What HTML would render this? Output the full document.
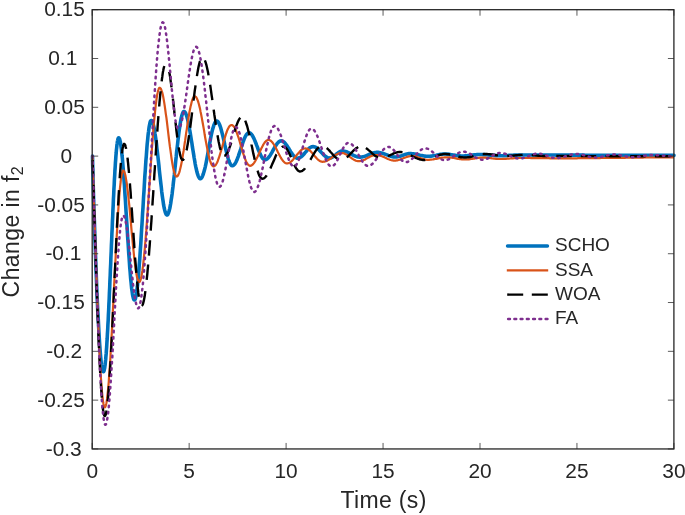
<!DOCTYPE html>
<html><head><meta charset="utf-8"><title>Change in f2</title>
<style>
html,body{margin:0;padding:0;background:#fff;}
body{width:685px;height:515px;overflow:hidden;font-family:"Liberation Sans",Arial,sans-serif;}
svg{display:block;}
svg text{font-family:"Liberation Sans",Arial,sans-serif;fill:#262626;}
</style></head><body>
<svg width="685" height="515" viewBox="0 0 685 515">
<rect width="685" height="515" fill="#fff"/>
<g fill="none" stroke-linejoin="round">
<path d="M92.5 156.1 L92.7 165.2 L92.9 173.0 L93.1 180.5 L93.3 187.7 L93.5 194.6 L93.7 201.5 L93.9 208.1 L94.1 214.6 L94.4 221.0 L94.6 227.3 L94.8 233.5 L95.0 239.5 L95.2 245.5 L95.4 251.3 L95.6 257.0 L95.8 262.6 L96.0 268.1 L96.2 273.4 L96.4 278.6 L96.6 283.8 L96.8 288.8 L97.0 293.6 L97.2 298.4 L97.4 303.0 L97.6 307.5 L97.8 311.8 L98.1 316.0 L98.3 320.1 L98.5 324.0 L98.7 327.8 L98.9 331.5 L99.1 334.9 L99.3 338.3 L99.5 341.5 L99.7 344.5 L99.9 347.4 L100.1 350.2 L100.3 352.7 L100.5 355.2 L100.7 357.4 L100.9 359.5 L101.1 361.5 L101.3 363.2 L101.5 364.8 L101.8 366.3 L102.0 367.5 L102.2 368.6 L102.4 369.6 L102.6 370.3 L102.8 370.9 L103.0 371.4 L103.2 371.6 L103.4 371.7 L103.7 371.5 L103.9 371.1 L104.2 370.3 L104.4 369.2 L104.7 367.8 L104.9 366.2 L105.2 364.2 L105.4 361.9 L105.7 359.4 L105.9 356.5 L106.2 353.4 L106.4 350.1 L106.7 346.5 L106.9 342.6 L107.2 338.5 L107.4 334.2 L107.7 329.7 L107.9 324.9 L108.2 320.0 L108.4 315.0 L108.7 309.7 L108.9 304.3 L109.2 298.8 L109.4 293.2 L109.7 287.4 L109.9 281.6 L110.2 275.7 L110.4 269.8 L110.7 263.8 L110.9 257.8 L111.2 251.7 L111.4 245.7 L111.7 239.7 L111.9 233.8 L112.2 227.9 L112.4 222.1 L112.7 216.3 L112.9 210.7 L113.2 205.2 L113.4 199.8 L113.7 194.5 L113.9 189.5 L114.2 184.6 L114.4 179.8 L114.7 175.3 L114.9 171.0 L115.2 166.9 L115.4 163.0 L115.7 159.4 L115.9 156.1 L116.2 153.0 L116.4 150.1 L116.7 147.6 L116.9 145.3 L117.2 143.3 L117.4 141.7 L117.7 140.3 L117.9 139.2 L118.2 138.4 L118.4 138.0 L118.7 137.8 L119.0 138.0 L119.4 138.5 L119.7 139.4 L120.0 140.7 L120.4 142.3 L120.7 144.2 L121.0 146.5 L121.4 149.1 L121.7 152.0 L122.0 155.3 L122.4 158.8 L122.7 162.5 L123.0 166.5 L123.4 170.8 L123.7 175.3 L124.0 179.9 L124.4 184.8 L124.7 189.8 L125.0 194.9 L125.4 200.1 L125.7 205.4 L126.0 210.8 L126.4 216.2 L126.7 221.6 L127.1 227.0 L127.4 232.4 L127.7 237.7 L128.1 242.9 L128.4 248.0 L128.7 253.0 L129.1 257.9 L129.4 262.5 L129.7 267.0 L130.1 271.3 L130.4 275.3 L130.7 279.0 L131.1 282.5 L131.4 285.8 L131.7 288.7 L132.1 291.3 L132.4 293.6 L132.7 295.5 L133.1 297.1 L133.4 298.4 L133.7 299.3 L134.1 299.8 L134.4 300.0 L134.7 299.8 L135.1 299.3 L135.4 298.5 L135.7 297.3 L136.0 295.8 L136.4 293.9 L136.7 291.8 L137.0 289.3 L137.4 286.6 L137.7 283.5 L138.0 280.2 L138.4 276.6 L138.7 272.7 L139.0 268.6 L139.3 264.3 L139.7 259.8 L140.0 255.1 L140.3 250.3 L140.7 245.2 L141.0 240.1 L141.3 234.8 L141.6 229.5 L142.0 224.0 L142.3 218.5 L142.6 213.0 L143.0 207.5 L143.3 202.0 L143.6 196.5 L144.0 191.0 L144.3 185.7 L144.6 180.4 L144.9 175.3 L145.3 170.2 L145.6 165.4 L145.9 160.7 L146.3 156.2 L146.6 151.9 L146.9 147.8 L147.2 143.9 L147.6 140.3 L147.9 137.0 L148.2 133.9 L148.6 131.2 L148.9 128.7 L149.2 126.6 L149.6 124.7 L149.9 123.2 L150.2 122.0 L150.5 121.2 L150.9 120.7 L151.2 120.5 L151.7 120.7 L152.2 121.4 L152.6 122.4 L153.1 123.9 L153.6 125.8 L154.1 128.0 L154.6 130.6 L155.0 133.6 L155.5 136.8 L156.0 140.3 L156.5 144.1 L156.9 148.1 L157.4 152.3 L157.9 156.6 L158.4 161.0 L158.9 165.5 L159.3 170.0 L159.8 174.5 L160.3 178.9 L160.8 183.2 L161.3 187.4 L161.7 191.4 L162.2 195.2 L162.7 198.7 L163.2 201.9 L163.6 204.9 L164.1 207.5 L164.6 209.7 L165.1 211.6 L165.6 213.1 L166.0 214.1 L166.5 214.8 L167.0 215.0 L167.5 214.8 L167.9 214.3 L168.4 213.3 L168.8 212.0 L169.3 210.4 L169.8 208.4 L170.2 206.1 L170.7 203.5 L171.1 200.6 L171.6 197.4 L172.1 194.0 L172.5 190.4 L173.0 186.5 L173.4 182.5 L173.9 178.4 L174.4 174.2 L174.8 169.8 L175.3 165.4 L175.7 161.1 L176.2 156.7 L176.6 152.3 L177.1 148.1 L177.6 144.0 L178.0 140.0 L178.5 136.1 L178.9 132.5 L179.4 129.1 L179.9 125.9 L180.3 123.0 L180.8 120.4 L181.2 118.1 L181.7 116.1 L182.2 114.5 L182.6 113.2 L183.1 112.2 L183.5 111.7 L184.0 111.5 L184.6 111.7 L185.1 112.3 L185.7 113.3 L186.2 114.6 L186.8 116.3 L187.4 118.4 L187.9 120.7 L188.5 123.3 L189.1 126.2 L189.6 129.4 L190.2 132.7 L190.7 136.1 L191.3 139.7 L191.9 143.3 L192.4 146.9 L193.0 150.5 L193.6 154.1 L194.1 157.5 L194.7 160.8 L195.2 164.0 L195.8 166.9 L196.4 169.5 L196.9 171.8 L197.5 173.9 L198.1 175.6 L198.6 176.9 L199.2 177.9 L199.7 178.5 L200.3 178.7 L200.9 178.5 L201.5 177.9 L202.1 177.0 L202.7 175.6 L203.3 174.0 L203.9 172.0 L204.6 169.6 L205.2 167.1 L205.8 164.3 L206.4 161.3 L207.0 158.1 L207.6 154.9 L208.2 151.5 L208.8 148.2 L209.4 144.8 L210.0 141.6 L210.6 138.4 L211.2 135.4 L211.8 132.6 L212.4 130.1 L213.1 127.7 L213.7 125.7 L214.3 124.1 L214.9 122.7 L215.5 121.8 L216.1 121.2 L216.7 121.0 L217.4 121.2 L218.1 121.8 L218.7 122.9 L219.4 124.3 L220.1 126.0 L220.8 128.1 L221.4 130.5 L222.1 133.1 L222.8 135.9 L223.5 138.8 L224.2 141.9 L224.8 144.9 L225.5 148.0 L226.2 150.9 L226.9 153.7 L227.6 156.3 L228.2 158.7 L228.9 160.8 L229.6 162.5 L230.3 163.9 L230.9 165.0 L231.6 165.6 L232.3 165.8 L233.1 165.6 L233.8 165.1 L234.6 164.3 L235.3 163.2 L236.1 161.8 L236.9 160.1 L237.6 158.2 L238.4 156.1 L239.1 153.9 L239.9 151.6 L240.7 149.2 L241.4 146.9 L242.2 144.6 L242.9 142.4 L243.7 140.3 L244.4 138.4 L245.2 136.7 L246.0 135.3 L246.7 134.2 L247.5 133.4 L248.2 132.9 L249.0 132.7 L249.8 132.9 L250.5 133.3 L251.3 134.0 L252.0 135.0 L252.8 136.3 L253.6 137.8 L254.3 139.4 L255.1 141.3 L255.9 143.2 L256.6 145.2 L257.4 147.2 L258.1 149.2 L258.9 151.1 L259.7 152.9 L260.4 154.6 L261.2 156.1 L262.0 157.4 L262.7 158.4 L263.5 159.1 L264.2 159.5 L265.0 159.7 L265.8 159.6 L266.7 159.2 L267.5 158.6 L268.4 157.7 L269.2 156.7 L270.1 155.4 L270.9 154.1 L271.8 152.6 L272.6 151.1 L273.5 149.5 L274.3 148.0 L275.2 146.5 L276.0 145.2 L276.9 143.9 L277.7 142.9 L278.6 142.0 L279.4 141.4 L280.3 141.0 L281.1 140.9 L282.0 141.0 L282.8 141.4 L283.7 141.9 L284.6 142.7 L285.5 143.7 L286.3 144.8 L287.2 146.1 L288.1 147.4 L289.0 148.8 L289.8 150.3 L290.7 151.7 L291.6 153.0 L292.5 154.3 L293.3 155.4 L294.2 156.4 L295.1 157.2 L296.0 157.7 L296.8 158.1 L297.7 158.2 L298.6 158.1 L299.5 157.8 L300.4 157.3 L301.3 156.7 L302.2 155.9 L303.1 155.0 L304.0 154.0 L304.9 152.9 L305.8 151.9 L306.7 150.8 L307.6 149.8 L308.5 148.9 L309.4 148.1 L310.3 147.5 L311.2 147.0 L312.1 146.7 L313.0 146.6 L313.9 146.7 L314.8 146.9 L315.8 147.4 L316.7 147.9 L317.6 148.6 L318.5 149.4 L319.4 150.4 L320.3 151.3 L321.2 152.3 L322.2 153.3 L323.1 154.2 L324.0 155.2 L324.9 156.0 L325.8 156.7 L326.8 157.2 L327.7 157.7 L328.6 157.9 L329.5 158.0 L330.4 157.9 L331.4 157.7 L332.3 157.2 L333.2 156.7 L334.1 156.0 L335.1 155.3 L336.0 154.5 L336.9 153.7 L337.9 153.0 L338.8 152.3 L339.7 151.8 L340.6 151.3 L341.6 151.1 L342.5 151.0 L343.5 151.0 L344.4 151.2 L345.4 151.4 L346.4 151.7 L347.3 152.1 L348.3 152.5 L349.3 153.0 L350.2 153.5 L351.2 154.0 L352.2 154.6 L353.1 155.1 L354.1 155.6 L355.1 156.0 L356.0 156.4 L357.0 156.7 L358.0 156.9 L358.9 157.1 L359.9 157.1 L360.9 157.1 L361.9 156.9 L363.0 156.7 L364.0 156.5 L365.0 156.2 L366.0 155.8 L367.0 155.4 L368.0 155.0 L369.1 154.5 L370.1 154.1 L371.1 153.7 L372.1 153.3 L373.1 153.0 L374.1 152.8 L375.2 152.6 L376.2 152.4 L377.2 152.4 L378.2 152.4 L379.2 152.5 L380.3 152.7 L381.3 152.9 L382.3 153.2 L383.3 153.6 L384.4 153.9 L385.4 154.3 L386.4 154.7 L387.4 155.1 L388.4 155.5 L389.5 155.8 L390.5 156.2 L391.5 156.5 L392.5 156.7 L393.6 156.9 L394.6 157.0 L395.6 157.0 L396.6 157.0 L397.7 156.8 L398.7 156.6 L399.7 156.4 L400.7 156.0 L401.8 155.7 L402.8 155.3 L403.8 154.9 L404.9 154.6 L405.9 154.2 L406.9 154.0 L407.9 153.8 L409.0 153.6 L410.0 153.6 L411.0 153.6 L412.0 153.7 L413.0 153.8 L414.0 153.9 L415.0 154.1 L416.0 154.3 L417.0 154.5 L418.0 154.7 L419.0 154.9 L420.0 155.2 L421.0 155.4 L422.0 155.6 L423.0 155.8 L424.0 156.0 L425.0 156.1 L426.0 156.2 L427.0 156.3 L428.0 156.3 L429.0 156.3 L430.1 156.2 L431.1 156.1 L432.2 156.0 L433.2 155.8 L434.3 155.6 L435.3 155.4 L436.4 155.2 L437.4 154.9 L438.4 154.7 L439.5 154.5 L440.5 154.3 L441.6 154.2 L442.6 154.1 L443.7 154.0 L444.7 154.0 L445.7 154.0 L446.7 154.1 L447.8 154.1 L448.8 154.3 L449.8 154.4 L450.8 154.6 L451.8 154.7 L452.8 154.9 L453.9 155.1 L454.9 155.3 L455.9 155.4 L456.9 155.6 L457.9 155.7 L458.9 155.9 L460.0 155.9 L461.0 156.0 L462.0 156.0 L463.0 156.0 L464.0 156.0 L465.0 155.9 L466.0 155.8 L467.0 155.7 L468.0 155.6 L469.0 155.5 L470.0 155.4 L471.0 155.2 L472.0 155.1 L473.0 155.0 L474.0 154.9 L475.0 154.8 L476.0 154.7 L477.0 154.6 L478.0 154.5 L479.0 154.5 L480.0 154.5 L481.0 154.5 L482.0 154.5 L483.0 154.6 L484.0 154.6 L485.0 154.7 L486.0 154.7 L487.0 154.8 L488.0 154.9 L489.0 155.0 L490.0 155.1 L491.0 155.2 L492.0 155.3 L493.0 155.4 L494.0 155.5 L495.0 155.5 L496.0 155.6 L497.0 155.6 L498.0 155.7 L499.0 155.7 L500.0 155.7 L501.0 155.7 L502.0 155.7 L503.0 155.7 L504.0 155.6 L505.0 155.6 L506.0 155.6 L507.0 155.5 L508.0 155.5 L509.0 155.4 L510.0 155.3 L511.0 155.3 L512.0 155.2 L513.0 155.2 L514.0 155.1 L515.0 155.1 L516.0 155.1 L517.0 155.0 L518.0 155.0 L519.0 155.0 L520.0 155.0 L521.0 155.0 L522.0 155.0 L523.0 155.0 L524.0 155.0 L525.0 155.0 L526.0 155.0 L527.0 155.0 L528.0 155.0 L529.0 155.0 L530.0 155.0 L531.0 155.0 L532.0 155.0 L533.0 155.0 L534.0 155.0 L535.0 155.0 L536.0 155.0 L537.0 155.0 L538.0 155.0 L539.0 155.0 L540.0 155.0 L541.0 155.0 L542.0 155.0 L543.0 155.0 L544.0 155.0 L545.0 155.0 L546.0 155.0 L547.0 155.0 L548.0 155.0 L549.0 155.0 L550.0 155.0 L551.0 155.0 L552.0 155.0 L553.0 155.0 L554.0 155.0 L555.0 155.0 L556.0 155.1 L557.0 155.1 L558.0 155.1 L559.0 155.1 L560.0 155.1 L561.0 155.1 L562.0 155.1 L563.0 155.1 L564.0 155.1 L565.0 155.1 L566.0 155.1 L567.0 155.1 L568.0 155.1 L569.0 155.1 L570.0 155.1 L571.0 155.1 L572.0 155.1 L573.0 155.1 L574.0 155.1 L575.0 155.1 L576.0 155.1 L577.0 155.1 L578.0 155.1 L579.0 155.1 L580.0 155.1 L581.0 155.1 L582.0 155.1 L583.0 155.1 L584.0 155.1 L585.0 155.2 L586.0 155.2 L587.0 155.2 L588.0 155.2 L589.0 155.2 L590.0 155.2 L591.0 155.2 L592.0 155.2 L593.0 155.2 L594.0 155.2 L595.0 155.2 L596.0 155.2 L597.0 155.2 L598.0 155.2 L599.0 155.2 L600.0 155.2 L601.0 155.2 L602.0 155.2 L603.0 155.2 L604.0 155.2 L605.0 155.2 L606.0 155.2 L607.0 155.2 L608.0 155.2 L609.0 155.2 L610.0 155.3 L611.0 155.3 L612.0 155.3 L613.0 155.3 L614.0 155.3 L615.0 155.3 L616.0 155.3 L617.0 155.3 L618.0 155.3 L619.0 155.3 L620.0 155.3 L621.0 155.3 L622.0 155.3 L623.0 155.3 L624.0 155.3 L625.0 155.3 L626.0 155.3 L627.0 155.3 L628.0 155.3 L629.0 155.3 L630.0 155.3 L631.0 155.3 L632.0 155.3 L633.0 155.3 L634.0 155.3 L635.0 155.3 L636.0 155.3 L637.0 155.3 L638.0 155.3 L639.0 155.4 L640.0 155.4 L641.0 155.4 L642.0 155.4 L643.0 155.4 L644.0 155.4 L645.0 155.4 L646.0 155.4 L647.0 155.4 L648.0 155.4 L649.0 155.4 L650.0 155.4 L651.0 155.4 L652.0 155.4 L653.0 155.4 L654.0 155.4 L655.0 155.4 L656.0 155.4 L657.0 155.4 L658.0 155.4 L659.0 155.4 L660.0 155.4 L661.0 155.4 L662.0 155.4 L663.0 155.4 L664.0 155.4 L665.0 155.4 L666.0 155.4 L667.0 155.4 L668.0 155.4 L669.0 155.4 L670.0 155.4 L671.0 155.4 L672.0 155.4 L673.0 155.4 L674.0 155.4" stroke="#0072BD" stroke-width="3.6" stroke-linecap="round"/>
<path d="M92.5 156.1 L92.7 162.5 L92.9 168.8 L93.1 175.2 L93.3 181.5 L93.5 187.8 L93.7 194.2 L93.9 200.4 L94.1 206.7 L94.3 212.9 L94.5 219.1 L94.7 225.2 L94.9 231.3 L95.1 237.4 L95.3 243.4 L95.5 249.3 L95.7 255.2 L95.9 261.0 L96.1 266.8 L96.3 272.5 L96.5 278.1 L96.7 283.6 L96.9 289.0 L97.1 294.4 L97.3 299.7 L97.5 304.8 L97.7 309.9 L97.9 314.9 L98.1 319.8 L98.3 324.6 L98.5 329.2 L98.7 333.8 L98.8 338.2 L99.0 342.6 L99.2 346.8 L99.4 350.9 L99.6 354.8 L99.8 358.7 L100.0 362.4 L100.2 365.9 L100.4 369.4 L100.6 372.7 L100.8 375.8 L101.0 378.8 L101.2 381.7 L101.4 384.4 L101.6 387.0 L101.8 389.5 L102.0 391.8 L102.2 393.9 L102.4 395.9 L102.6 397.7 L102.8 399.4 L103.0 400.9 L103.2 402.3 L103.4 403.5 L103.6 404.5 L103.8 405.4 L104.0 406.1 L104.2 406.7 L104.4 407.1 L104.6 407.3 L104.8 407.4 L105.1 407.3 L105.4 406.8 L105.6 406.2 L105.9 405.2 L106.2 404.0 L106.5 402.5 L106.8 400.7 L107.1 398.7 L107.3 396.4 L107.6 393.8 L107.9 391.1 L108.2 388.0 L108.5 384.8 L108.8 381.3 L109.0 377.6 L109.3 373.7 L109.6 369.6 L109.9 365.3 L110.2 360.9 L110.5 356.2 L110.7 351.4 L111.0 346.5 L111.3 341.4 L111.6 336.3 L111.9 331.0 L112.2 325.6 L112.4 320.1 L112.7 314.5 L113.0 308.9 L113.3 303.2 L113.6 297.5 L113.9 291.8 L114.1 286.1 L114.4 280.4 L114.7 274.7 L115.0 269.0 L115.3 263.4 L115.6 257.8 L115.8 252.3 L116.1 246.9 L116.4 241.6 L116.7 236.5 L117.0 231.4 L117.3 226.5 L117.5 221.7 L117.8 217.0 L118.1 212.6 L118.4 208.3 L118.7 204.2 L119.0 200.3 L119.2 196.6 L119.5 193.1 L119.8 189.9 L120.1 186.8 L120.4 184.1 L120.7 181.5 L120.9 179.2 L121.2 177.2 L121.5 175.4 L121.8 173.9 L122.1 172.7 L122.4 171.7 L122.6 171.1 L122.9 170.6 L123.2 170.5 L123.6 170.7 L124.1 171.3 L124.5 172.3 L124.9 173.7 L125.4 175.4 L125.8 177.6 L126.2 180.1 L126.7 182.9 L127.1 186.0 L127.5 189.4 L128.0 193.1 L128.4 197.0 L128.8 201.2 L129.3 205.5 L129.7 209.9 L130.1 214.5 L130.6 219.2 L131.0 223.9 L131.4 228.6 L131.8 233.3 L132.3 238.0 L132.7 242.6 L133.1 247.0 L133.6 251.3 L134.0 255.5 L134.4 259.4 L134.9 263.1 L135.3 266.5 L135.7 269.6 L136.2 272.4 L136.6 274.9 L137.0 277.1 L137.5 278.8 L137.9 280.2 L138.3 281.2 L138.8 281.8 L139.2 282.0 L139.6 281.9 L139.9 281.4 L140.3 280.7 L140.6 279.7 L141.0 278.5 L141.3 276.9 L141.7 275.1 L142.0 273.0 L142.4 270.7 L142.7 268.1 L143.1 265.3 L143.4 262.2 L143.8 258.9 L144.1 255.4 L144.5 251.7 L144.9 247.8 L145.2 243.7 L145.6 239.4 L145.9 235.0 L146.3 230.4 L146.6 225.7 L147.0 220.8 L147.3 215.9 L147.7 210.9 L148.0 205.8 L148.4 200.6 L148.7 195.4 L149.1 190.2 L149.4 184.9 L149.8 179.6 L150.2 174.4 L150.5 169.2 L150.9 164.0 L151.2 158.9 L151.6 153.9 L151.9 149.0 L152.3 144.1 L152.6 139.4 L153.0 134.8 L153.3 130.4 L153.7 126.1 L154.0 122.0 L154.4 118.1 L154.8 114.4 L155.1 110.9 L155.5 107.6 L155.8 104.5 L156.2 101.7 L156.5 99.1 L156.9 96.8 L157.2 94.7 L157.6 92.9 L157.9 91.3 L158.3 90.1 L158.6 89.1 L159.0 88.4 L159.3 87.9 L159.7 87.8 L160.2 88.0 L160.7 88.6 L161.2 89.6 L161.7 91.0 L162.3 92.7 L162.8 94.8 L163.3 97.3 L163.8 100.1 L164.3 103.1 L164.8 106.4 L165.3 110.0 L165.8 113.8 L166.4 117.7 L166.9 121.7 L167.4 125.9 L167.9 130.1 L168.4 134.3 L168.9 138.5 L169.4 142.7 L169.9 146.7 L170.5 150.6 L171.0 154.4 L171.5 158.0 L172.0 161.3 L172.5 164.3 L173.0 167.1 L173.5 169.6 L174.0 171.7 L174.6 173.4 L175.1 174.8 L175.6 175.8 L176.1 176.4 L176.6 176.6 L177.1 176.4 L177.7 175.9 L178.2 175.1 L178.7 173.9 L179.3 172.4 L179.8 170.6 L180.3 168.5 L180.9 166.1 L181.4 163.5 L182.0 160.6 L182.5 157.6 L183.0 154.3 L183.6 151.0 L184.1 147.4 L184.6 143.8 L185.2 140.2 L185.7 136.4 L186.2 132.7 L186.8 129.1 L187.3 125.5 L187.8 121.9 L188.4 118.6 L188.9 115.3 L189.4 112.3 L190.0 109.4 L190.5 106.8 L191.1 104.4 L191.6 102.3 L192.1 100.5 L192.7 99.0 L193.2 97.8 L193.7 97.0 L194.3 96.5 L194.8 96.3 L195.4 96.5 L196.0 97.0 L196.6 97.8 L197.1 99.0 L197.7 100.4 L198.3 102.2 L198.9 104.3 L199.5 106.6 L200.1 109.1 L200.6 111.9 L201.2 114.8 L201.8 117.9 L202.4 121.2 L203.0 124.5 L203.6 127.9 L204.2 131.3 L204.7 134.8 L205.3 138.2 L205.9 141.5 L206.5 144.8 L207.1 147.9 L207.7 150.8 L208.2 153.6 L208.8 156.1 L209.4 158.4 L210.0 160.5 L210.6 162.3 L211.2 163.7 L211.7 164.9 L212.3 165.7 L212.9 166.2 L213.5 166.4 L214.2 166.2 L214.9 165.8 L215.6 165.1 L216.3 164.0 L217.0 162.7 L217.7 161.2 L218.3 159.4 L219.0 157.5 L219.7 155.3 L220.4 153.0 L221.1 150.7 L221.8 148.2 L222.5 145.7 L223.2 143.2 L223.9 140.7 L224.6 138.4 L225.3 136.1 L226.0 133.9 L226.7 132.0 L227.3 130.2 L228.0 128.7 L228.7 127.4 L229.4 126.3 L230.1 125.6 L230.8 125.2 L231.5 125.0 L232.2 125.1 L232.9 125.6 L233.6 126.3 L234.4 127.3 L235.1 128.6 L235.8 130.1 L236.5 131.9 L237.2 133.8 L237.9 135.9 L238.7 138.2 L239.4 140.5 L240.1 142.9 L240.8 145.4 L241.5 147.9 L242.2 150.3 L242.9 152.6 L243.7 154.9 L244.4 157.0 L245.1 158.9 L245.8 160.7 L246.5 162.2 L247.2 163.5 L248.0 164.5 L248.7 165.2 L249.4 165.7 L250.1 165.8 L250.9 165.7 L251.7 165.3 L252.5 164.7 L253.3 163.9 L254.1 162.9 L254.9 161.7 L255.7 160.3 L256.5 158.8 L257.3 157.2 L258.1 155.5 L258.9 153.7 L259.7 152.0 L260.5 150.2 L261.3 148.5 L262.1 146.9 L262.9 145.4 L263.7 144.0 L264.5 142.8 L265.3 141.8 L266.1 141.0 L266.9 140.4 L267.7 140.0 L268.5 139.9 L269.3 140.0 L270.2 140.4 L271.0 141.0 L271.8 141.8 L272.7 142.8 L273.5 144.0 L274.4 145.3 L275.2 146.8 L276.0 148.3 L276.9 150.0 L277.7 151.7 L278.5 153.3 L279.4 155.0 L280.2 156.5 L281.0 158.0 L281.9 159.3 L282.7 160.5 L283.6 161.5 L284.4 162.3 L285.2 162.9 L286.1 163.3 L286.9 163.4 L287.8 163.3 L288.7 163.1 L289.5 162.7 L290.4 162.1 L291.3 161.4 L292.2 160.6 L293.0 159.7 L293.9 158.6 L294.8 157.6 L295.7 156.5 L296.5 155.3 L297.4 154.2 L298.3 153.2 L299.2 152.2 L300.0 151.2 L300.9 150.4 L301.8 149.7 L302.7 149.1 L303.5 148.7 L304.4 148.5 L305.3 148.4 L306.2 148.5 L307.1 148.8 L308.0 149.2 L308.9 149.8 L309.9 150.6 L310.8 151.4 L311.7 152.4 L312.6 153.5 L313.5 154.5 L314.4 155.7 L315.3 156.7 L316.2 157.8 L317.1 158.8 L318.0 159.6 L319.0 160.4 L319.9 161.0 L320.8 161.4 L321.7 161.7 L322.6 161.8 L323.6 161.7 L324.6 161.6 L325.6 161.3 L326.6 160.9 L327.6 160.4 L328.6 159.8 L329.6 159.2 L330.6 158.5 L331.6 157.8 L332.5 157.0 L333.5 156.3 L334.5 155.6 L335.5 155.0 L336.5 154.4 L337.5 153.9 L338.5 153.5 L339.5 153.2 L340.5 153.1 L341.5 153.0 L342.5 153.1 L343.4 153.2 L344.4 153.5 L345.3 154.0 L346.3 154.5 L347.3 155.0 L348.2 155.7 L349.2 156.4 L350.1 157.1 L351.1 157.8 L352.1 158.5 L353.0 159.1 L354.0 159.7 L355.0 160.2 L355.9 160.7 L356.9 161.0 L357.8 161.1 L358.8 161.2 L359.8 161.2 L360.7 161.0 L361.7 160.8 L362.7 160.5 L363.6 160.1 L364.6 159.7 L365.6 159.2 L366.5 158.6 L367.5 158.1 L368.5 157.6 L369.4 157.0 L370.4 156.6 L371.4 156.1 L372.3 155.7 L373.3 155.4 L374.3 155.2 L375.2 155.0 L376.2 155.0 L377.2 155.0 L378.1 155.2 L379.1 155.3 L380.1 155.6 L381.0 155.9 L382.0 156.3 L383.0 156.7 L383.9 157.1 L384.9 157.6 L385.9 158.0 L386.9 158.5 L387.8 158.9 L388.8 159.3 L389.8 159.7 L390.7 160.0 L391.7 160.3 L392.7 160.4 L393.6 160.6 L394.6 160.6 L395.6 160.6 L396.6 160.4 L397.7 160.3 L398.7 160.0 L399.7 159.7 L400.7 159.3 L401.8 158.9 L402.8 158.5 L403.8 158.1 L404.8 157.7 L405.9 157.3 L406.9 156.9 L407.9 156.6 L408.9 156.3 L410.0 156.2 L411.0 156.0 L412.0 156.0 L413.0 156.0 L414.0 156.1 L415.0 156.3 L416.0 156.6 L417.0 156.8 L418.0 157.2 L419.0 157.5 L420.0 157.9 L421.0 158.3 L422.0 158.6 L423.0 159.0 L424.0 159.2 L425.0 159.5 L426.0 159.7 L427.0 159.8 L428.0 159.8 L429.0 159.8 L430.1 159.7 L431.1 159.6 L432.2 159.5 L433.2 159.4 L434.2 159.2 L435.3 159.0 L436.3 158.8 L437.4 158.6 L438.4 158.3 L439.4 158.1 L440.5 157.9 L441.5 157.7 L442.5 157.6 L443.6 157.5 L444.6 157.4 L445.7 157.3 L446.7 157.3 L447.7 157.3 L448.7 157.4 L449.8 157.4 L450.8 157.6 L451.8 157.7 L452.8 157.8 L453.8 158.0 L454.8 158.2 L455.9 158.4 L456.9 158.6 L457.9 158.8 L458.9 158.9 L459.9 159.1 L460.9 159.2 L461.9 159.4 L463.0 159.4 L464.0 159.5 L465.0 159.5 L466.0 159.5 L467.0 159.4 L468.0 159.4 L469.0 159.3 L470.0 159.2 L471.0 159.0 L472.0 158.9 L473.0 158.7 L474.0 158.6 L475.0 158.4 L476.0 158.2 L477.0 158.1 L478.0 157.9 L479.0 157.8 L480.0 157.7 L481.0 157.7 L482.0 157.6 L483.0 157.6 L484.0 157.6 L485.0 157.6 L486.0 157.7 L487.0 157.8 L488.0 157.9 L489.0 158.0 L490.0 158.1 L491.0 158.2 L492.0 158.4 L493.0 158.5 L494.0 158.6 L495.0 158.7 L496.0 158.8 L497.0 158.9 L498.0 159.0 L499.0 159.0 L500.0 159.0 L501.0 159.0 L502.0 159.0 L503.0 158.9 L504.0 158.9 L505.0 158.9 L506.0 158.8 L507.0 158.7 L508.0 158.7 L509.0 158.6 L510.0 158.5 L511.0 158.4 L512.0 158.3 L513.0 158.3 L514.0 158.2 L515.0 158.1 L516.0 158.1 L517.0 158.1 L518.0 158.0 L519.0 158.0 L520.0 158.0 L521.0 158.0 L522.0 158.0 L523.0 158.0 L524.0 158.0 L525.0 158.0 L526.0 158.0 L527.0 158.0 L528.0 158.0 L529.0 158.0 L530.0 158.0 L531.0 158.1 L532.0 158.1 L533.0 158.1 L534.0 158.1 L535.0 158.1 L536.0 158.1 L537.0 158.1 L538.0 158.1 L539.0 158.1 L540.0 158.2 L541.0 158.2 L542.0 158.2 L543.0 158.2 L544.0 158.2 L545.0 158.2 L546.0 158.2 L547.0 158.2 L548.0 158.2 L549.0 158.2 L550.0 158.3 L551.0 158.3 L552.0 158.3 L553.0 158.3 L554.0 158.3 L555.0 158.3 L556.0 158.3 L557.0 158.3 L558.0 158.3 L559.0 158.3 L560.0 158.3 L561.0 158.3 L562.0 158.3 L563.0 158.3 L564.0 158.3 L565.0 158.3 L566.0 158.3 L567.0 158.3 L568.0 158.3 L569.0 158.3 L570.0 158.3 L571.0 158.3 L572.0 158.3 L573.0 158.3 L574.0 158.3 L575.0 158.3 L576.0 158.3 L577.0 158.3 L578.0 158.2 L579.0 158.2 L580.0 158.2 L581.0 158.2 L582.0 158.2 L583.0 158.2 L584.0 158.2 L585.0 158.2 L586.0 158.2 L587.0 158.2 L588.0 158.2 L589.0 158.2 L590.0 158.2 L591.0 158.1 L592.0 158.1 L593.0 158.1 L594.0 158.1 L595.0 158.1 L596.0 158.1 L597.0 158.1 L598.0 158.1 L599.0 158.1 L600.0 158.1 L601.0 158.0 L602.0 158.0 L603.0 158.0 L604.0 158.0 L605.0 158.0 L606.0 158.0 L607.0 158.0 L608.0 158.0 L609.0 157.9 L610.0 157.9 L611.0 157.9 L612.0 157.9 L613.0 157.9 L614.0 157.9 L615.0 157.9 L616.0 157.9 L617.0 157.9 L618.0 157.8 L619.0 157.8 L620.0 157.8 L621.0 157.8 L622.0 157.8 L623.0 157.8 L624.0 157.8 L625.0 157.8 L626.0 157.7 L627.0 157.7 L628.0 157.7 L629.0 157.7 L630.0 157.7 L631.0 157.7 L632.0 157.7 L633.0 157.7 L634.0 157.6 L635.0 157.6 L636.0 157.6 L637.0 157.6 L638.0 157.6 L639.0 157.6 L640.0 157.6 L641.0 157.6 L642.0 157.6 L643.0 157.6 L644.0 157.5 L645.0 157.5 L646.0 157.5 L647.0 157.5 L648.0 157.5 L649.0 157.5 L650.0 157.5 L651.0 157.5 L652.0 157.5 L653.0 157.5 L654.0 157.5 L655.0 157.5 L656.0 157.5 L657.0 157.4 L658.0 157.4 L659.0 157.4 L660.0 157.4 L661.0 157.4 L662.0 157.4 L663.0 157.4 L664.0 157.4 L665.0 157.4 L666.0 157.4 L667.0 157.4 L668.0 157.4 L669.0 157.4 L670.0 157.4 L671.0 157.4 L672.0 157.4 L673.0 157.4 L674.0 157.4" stroke="#D95319" stroke-width="2.2"/>
<path d="M92.6 160.1 L92.7 162.6 L92.9 169.1 L93.1 175.5 M93.4 184.8 L93.5 188.4 L93.7 194.8 L93.8 200.2 M94.1 209.5 L94.3 213.9 L94.5 220.2 L94.6 224.9 M94.9 234.2 L95.0 238.9 L95.2 245.0 L95.4 249.6 M95.7 258.9 L95.8 263.0 L96.0 268.9 L96.2 274.2 M96.5 283.5 L96.6 286.0 L96.8 291.6 L97.0 297.1 L97.1 298.9 M97.4 308.2 L97.6 313.0 L97.8 318.1 L98.0 323.2 L98.0 323.6 M98.4 332.9 L98.6 337.6 L98.7 342.2 L98.9 346.6 L99.0 348.3 M99.4 357.6 L99.5 359.3 L99.7 363.3 L99.9 367.1 L100.1 370.8 L100.2 373.0 M100.8 382.2 L100.9 384.3 L101.1 387.4 L101.3 390.3 L101.5 393.0 L101.7 395.6 L101.8 397.6 M102.7 406.9 L102.8 408.0 L103.0 409.5 L103.2 410.8 L103.4 412.1 L103.6 413.1 L103.8 414.0 L104.0 414.7 L104.2 415.3 L104.4 415.7 L104.6 415.9 L104.8 416.0 L105.1 415.9 L105.3 415.5 L105.6 414.9 L105.9 414.0 L106.1 412.9 L106.4 411.5 L106.6 410.5 M107.7 401.3 L107.7 401.0 L108.0 398.3 L108.3 395.3 L108.5 392.0 L108.8 388.6 L109.0 386.0 M109.6 376.7 L109.8 373.0 L110.1 368.6 L110.4 364.1 L110.5 361.3 M111.1 352.0 L111.2 349.7 L111.4 344.6 L111.7 339.4 L111.8 336.7 M112.3 327.4 L112.5 323.1 L112.8 317.5 L113.0 312.0 M113.5 302.7 L113.6 300.4 L113.8 294.6 L114.1 288.7 L114.2 287.3 M114.6 278.0 L114.6 277.0 L114.9 271.2 L115.2 265.3 L115.3 262.6 M115.7 253.3 L116.0 248.0 L116.2 242.4 L116.4 238.0 M116.9 227.7 L117.0 225.9 L117.3 220.5 L117.6 215.3 L117.7 212.3 M118.1 205.5 L118.1 205.3 L118.4 200.5 L118.6 195.8 L118.9 191.3 L119.0 190.1 M119.7 178.2 L119.9 174.9 L120.2 171.3 L120.5 167.9 L120.7 164.6 L120.9 162.8 M121.9 153.3 L122.1 151.9 L122.3 150.0 L122.6 148.4 L122.9 147.0 L123.1 145.9 L123.4 145.0 L123.7 144.4 L123.9 144.0 L124.2 143.9 L124.6 144.1 L124.9 144.6 L125.3 145.4 L125.6 146.6 L126.0 148.0 L126.1 148.9 M127.5 157.7 L127.7 160.0 L128.1 163.2 L128.4 166.7 L128.8 170.5 L129.0 173.0 M129.9 183.4 L130.2 187.5 L130.6 192.1 L130.9 197.0 L131.0 198.7 M131.6 207.3 L132.0 212.0 L132.3 217.2 L132.7 222.4 L132.7 222.7 M133.4 232.8 L133.7 237.9 L134.1 243.0 L134.4 248.0 L134.5 248.2 M135.1 257.6 L135.1 257.8 L135.5 262.4 L135.9 267.0 L136.2 271.3 L136.3 272.9 M137.1 281.5 L137.3 283.2 L137.6 286.7 L138.0 289.9 L138.3 292.9 L138.7 295.6 L138.9 296.8 M141.8 305.9 L141.8 305.9 L142.2 305.5 L142.5 305.0 L142.9 304.2 L143.2 303.1 L143.5 301.9 L143.9 300.4 L144.2 298.7 L144.6 296.8 L144.9 294.6 L145.2 292.3 L145.4 291.1 M146.7 279.9 L146.9 277.6 L147.3 274.1 L147.6 270.4 L148.0 266.6 L148.1 264.5 M148.9 255.6 L149.0 254.2 L149.3 249.8 L149.7 245.2 L150.0 240.6 L150.0 240.2 M150.7 230.6 L151.0 226.1 L151.4 221.0 L151.7 215.9 L151.8 215.3 M152.4 205.5 L152.7 200.4 L153.1 195.1 L153.4 190.1 M154.0 180.4 L154.1 179.2 L154.4 173.9 L154.8 168.6 L155.0 165.1 M155.6 155.5 L155.8 153.1 L156.1 148.0 L156.5 142.9 L156.7 140.1 M157.3 131.6 L157.5 128.4 L157.8 123.8 L158.2 119.2 L158.4 116.2 M159.2 106.5 L159.2 106.4 L159.5 102.4 L159.9 98.6 L160.2 94.9 L160.6 91.4 L160.6 91.2 M161.7 81.3 L161.9 79.3 L162.3 76.7 L162.6 74.4 L162.9 72.2 L163.3 70.3 L163.6 68.6 L164.0 67.1 L164.2 66.1 M169.3 72.1 L169.3 72.3 L169.8 75.0 L170.3 78.0 L170.7 81.3 L171.2 84.8 L171.5 87.3 M172.9 98.6 L173.1 100.7 L173.6 105.0 L174.1 109.3 L174.5 113.7 L174.6 113.9 M175.5 122.2 L175.5 122.3 L176.0 126.5 L176.4 130.6 L176.9 134.5 L177.3 137.5 M178.7 147.4 L178.8 148.0 L179.3 150.7 L179.8 153.1 L180.2 155.2 L180.7 156.9 L181.2 158.3 L181.7 159.2 L182.1 159.8 L182.6 160.0 L183.1 159.8 L183.6 159.3 L184.0 158.8 M186.5 150.3 L186.7 149.7 L187.2 147.1 L187.7 144.2 L188.2 141.1 L188.7 137.8 L189.1 135.1 M190.1 127.7 L190.3 126.9 L190.8 122.9 L191.3 118.9 L191.8 114.8 L192.1 112.4 M193.5 100.6 L193.8 98.4 L194.3 94.4 L194.8 90.4 L195.4 86.6 L195.5 85.3 M196.9 76.1 L197.4 73.1 L197.9 70.2 L198.4 67.6 L198.9 65.2 L199.4 63.2 L199.9 61.4 L200.1 61.1 M204.9 60.4 L205.2 61.1 L205.7 62.7 L206.3 64.6 L206.8 66.7 L207.3 69.1 L207.9 71.8 L208.4 74.6 L208.5 75.3 M210.1 84.8 L210.6 87.8 L211.1 91.4 L211.6 95.1 L212.2 98.9 L212.3 100.1 M213.7 109.7 L213.8 110.5 L214.3 114.4 L214.9 118.2 L215.4 121.9 L215.8 124.9 M217.5 135.2 L217.6 135.7 L218.1 138.7 L218.6 141.5 L219.2 144.2 L219.7 146.6 L220.2 148.7 L220.7 150.2 M224.3 155.9 L224.7 155.8 L225.4 155.4 L226.2 154.6 L226.9 153.6 L227.6 152.3 L228.3 150.7 L229.0 148.9 L229.8 146.9 L230.5 144.8 L231.2 142.6 M234.4 131.8 L234.8 130.5 L235.5 128.2 L236.2 126.1 L237.0 124.1 L237.7 122.3 L238.4 120.7 L239.1 119.4 L239.8 118.4 L240.4 117.8 M245.2 120.6 L245.2 120.6 L245.8 122.2 L246.4 124.0 L247.1 126.0 L247.7 128.3 L248.3 130.7 L249.0 133.3 L249.5 135.4 M251.5 144.6 L251.5 144.8 L252.2 147.8 L252.8 150.9 L253.4 153.9 L254.1 156.8 L254.7 159.7 L254.7 159.7 M257.6 170.7 L257.9 171.7 L258.5 173.5 L259.1 175.1 L259.8 176.4 L260.4 177.4 L261.0 178.1 L261.7 178.6 L262.3 178.7 L263.1 178.6 L263.9 178.3 L264.7 177.7 L265.4 177.0 L266.2 176.1 L266.7 175.3 M270.4 168.5 L270.9 167.3 L271.7 165.4 L272.5 163.6 L273.3 161.7 L274.1 159.9 L274.9 158.0 L275.6 156.3 L276.4 154.6 L276.6 154.4 M281.8 147.1 L281.9 147.0 L282.7 146.7 L283.5 146.6 L284.3 146.8 L285.1 147.2 L286.0 148.0 L286.8 149.0 L287.6 150.2 L288.4 151.7 L289.3 153.4 L290.1 155.2 L290.9 157.1 L291.0 157.3 M294.2 164.7 L295.1 166.4 L295.9 167.9 L296.7 169.1 L297.5 170.1 L298.4 170.9 L299.2 171.3 L300.0 171.5 L300.8 171.4 L301.6 171.2 L302.4 170.7 L303.3 170.1 L304.1 169.4 L304.9 168.5 L305.0 168.3 M310.4 159.8 L310.6 159.5 L311.4 158.0 L312.2 156.5 L313.0 155.1 L313.9 153.7 L314.7 152.4 L315.5 151.1 L316.3 150.0 L317.1 149.0 L317.9 148.1 L318.7 147.4 L319.0 147.1 M326.7 148.0 L327.4 148.6 L328.3 149.5 L329.2 150.4 L330.1 151.4 L331.0 152.5 L332.0 153.5 L332.9 154.6 L333.8 155.6 L334.7 156.5 L335.6 157.4 L336.5 158.1 L337.4 158.8 L337.5 158.9 M346.8 157.4 L347.4 156.9 L348.3 156.1 L349.2 155.2 L350.1 154.2 L351.0 153.2 L351.9 152.3 L352.8 151.3 L353.7 150.4 L354.6 149.6 L355.5 148.8 L356.5 148.1 L357.4 147.6 L358.2 147.1 M365.9 148.1 L366.5 148.5 L367.4 149.1 L368.3 149.9 L369.2 150.6 L370.1 151.4 L371.0 152.2 L371.9 153.1 L372.8 153.9 L373.7 154.6 L374.6 155.4 L375.5 156.0 L376.5 156.6 L377.4 157.1 L378.1 157.4 M387.9 156.2 L388.6 155.9 L389.6 155.5 L390.5 155.0 L391.4 154.5 L392.4 154.1 L393.4 153.6 L394.3 153.2 L395.2 152.9 L396.2 152.6 L397.1 152.3 L398.1 152.1 L399.1 152.0 L400.0 152.0 L401.0 152.0 L401.9 152.1 L402.5 152.2 M410.8 155.4 L411.5 155.7 L412.5 156.3 L413.4 156.7 L414.4 157.2 L415.4 157.7 L416.3 158.1 L417.3 158.5 L418.2 158.9 L419.2 159.2 L420.2 159.5 L421.1 159.7 L422.1 159.9 L423.0 160.0 L424.0 160.0 L425.0 160.0 L425.2 159.9 M435.2 156.7 L435.5 156.6 L436.4 156.2 L437.4 155.8 L438.3 155.4 L439.3 155.0 L440.2 154.7 L441.2 154.5 L442.1 154.3 L443.1 154.1 L444.0 154.0 L445.0 154.0 L446.0 154.0 L447.0 154.1 L448.0 154.2 L449.0 154.3 L450.0 154.5 L450.2 154.5 M458.4 156.6 L459.0 156.8 L460.0 157.0 L461.0 157.2 L462.0 157.3 L463.0 157.4 L464.0 157.5 L465.0 157.5 L466.0 157.5 L467.0 157.4 L468.0 157.3 L469.0 157.2 L470.0 157.0 L471.0 156.8 L472.0 156.5 L473.0 156.3 L473.6 156.1 M482.7 154.1 L483.0 154.1 L484.0 154.0 L485.0 154.0 L486.0 154.0 L487.0 154.0 L488.0 154.1 L489.0 154.2 L490.0 154.3 L491.0 154.4 L492.0 154.5 L493.0 154.7 L494.0 154.8 L495.0 155.0 L496.0 155.2 L497.0 155.3 L498.0 155.4 M507.2 156.0 L508.0 155.9 L509.0 155.9 L510.0 155.8 L511.0 155.8 L512.0 155.7 L513.0 155.6 L514.0 155.5 L515.0 155.4 L516.0 155.3 L517.0 155.2 L518.0 155.1 L519.0 155.0 L520.0 155.0 L521.0 154.9 L522.0 154.9 L522.6 154.8 M531.7 155.1 L532.0 155.1 L533.0 155.2 L534.0 155.3 L535.0 155.4 L536.0 155.5 L537.0 155.6 L538.0 155.7 L539.0 155.8 L540.0 155.8 L541.0 155.9 L542.0 155.9 L543.0 156.0 L544.0 156.0 L545.0 156.0 L546.0 156.0 L547.0 156.0 L547.1 156.0 M556.3 156.0 L557.0 156.0 L558.0 156.0 L559.0 156.0 L560.0 156.0 L561.0 156.0 L562.0 156.0 L563.0 156.0 L564.0 156.0 L565.0 156.0 L566.0 156.0 L567.0 156.0 L568.0 156.0 L569.0 156.0 L570.0 156.0 L571.0 156.0 L571.7 156.0 M580.8 156.1 L581.0 156.1 L582.0 156.1 L583.0 156.1 L584.0 156.1 L585.0 156.1 L586.0 156.1 L587.0 156.1 L588.0 156.1 L589.0 156.1 L590.0 156.1 L591.0 156.1 L592.0 156.1 L593.0 156.1 L594.0 156.1 L595.0 156.1 L596.0 156.1 L596.2 156.1 M605.5 156.1 L606.0 156.1 L607.0 156.1 L608.0 156.1 L609.0 156.1 L610.0 156.2 L611.0 156.2 L612.0 156.2 L613.0 156.2 L614.0 156.2 L615.0 156.2 L616.0 156.2 L617.0 156.2 L618.0 156.2 L619.0 156.2 L620.0 156.2 L620.9 156.2 M630.2 156.2 L631.0 156.2 L632.0 156.2 L633.0 156.2 L634.0 156.2 L635.0 156.2 L636.0 156.2 L637.0 156.2 L638.0 156.2 L639.0 156.2 L640.0 156.3 L641.0 156.3 L642.0 156.3 L643.0 156.3 L644.0 156.3 L645.0 156.3 L645.6 156.3 M654.9 156.3 L655.0 156.3 L656.0 156.3 L657.0 156.3 L658.0 156.3 L659.0 156.3 L660.0 156.3 L661.0 156.3 L662.0 156.3 L663.0 156.3 L664.0 156.3 L665.0 156.3 L666.0 156.3 L667.0 156.3 L668.0 156.3 L669.0 156.3 L670.0 156.3 L670.3 156.3" stroke="#000" stroke-width="2.4" stroke-linecap="butt"/>
<path d="M92.5 156.1 L92.7 162.6 L92.9 169.1 L93.1 175.6 L93.3 182.0 L93.5 188.5 L93.7 194.9 L93.9 201.3 L94.1 207.7 L94.3 214.1 L94.5 220.4 L94.7 226.7 L94.9 232.9 L95.1 239.1 L95.3 245.3 L95.5 251.4 L95.7 257.4 L95.9 263.4 L96.1 269.3 L96.3 275.2 L96.5 281.0 L96.7 286.7 L96.9 292.3 L97.1 297.9 L97.3 303.4 L97.5 308.7 L97.7 314.0 L97.9 319.2 L98.1 324.4 L98.3 329.4 L98.5 334.3 L98.7 339.1 L98.9 343.8 L99.0 348.4 L99.2 352.9 L99.4 357.2 L99.6 361.5 L99.8 365.6 L100.0 369.6 L100.2 373.5 L100.4 377.2 L100.6 380.9 L100.8 384.4 L101.0 387.7 L101.2 390.9 L101.4 394.0 L101.6 397.0 L101.8 399.8 L102.0 402.4 L102.2 405.0 L102.4 407.3 L102.6 409.6 L102.8 411.6 L103.0 413.6 L103.2 415.4 L103.4 417.0 L103.6 418.5 L103.8 419.8 L104.0 421.0 L104.2 422.0 L104.4 422.8 L104.6 423.5 L104.8 424.1 L105.0 424.5 L105.2 424.7 L105.4 424.8 L105.7 424.6 L106.0 424.2 L106.3 423.4 L106.6 422.4 L106.9 421.0 L107.2 419.3 L107.5 417.4 L107.9 415.1 L108.2 412.6 L108.5 409.8 L108.8 406.8 L109.1 403.5 L109.4 399.9 L109.7 396.1 L110.0 392.1 L110.3 387.9 L110.6 383.5 L110.9 378.9 L111.2 374.1 L111.5 369.1 L111.8 364.1 L112.2 358.9 L112.5 353.5 L112.8 348.1 L113.1 342.6 L113.4 337.0 L113.7 331.4 L114.0 325.8 L114.3 320.1 L114.6 314.4 L114.9 308.8 L115.2 303.2 L115.5 297.6 L115.8 292.1 L116.1 286.7 L116.4 281.3 L116.8 276.1 L117.1 271.1 L117.4 266.1 L117.7 261.3 L118.0 256.7 L118.3 252.3 L118.6 248.1 L118.9 244.1 L119.2 240.3 L119.5 236.7 L119.8 233.4 L120.1 230.4 L120.4 227.6 L120.7 225.1 L121.1 222.8 L121.4 220.9 L121.7 219.2 L122.0 217.8 L122.3 216.8 L122.6 216.0 L122.9 215.6 L123.2 215.4 L123.7 215.6 L124.1 216.3 L124.6 217.4 L125.1 218.9 L125.5 220.9 L126.0 223.2 L126.5 225.9 L127.0 229.0 L127.4 232.4 L127.9 236.0 L128.4 240.0 L128.8 244.1 L129.3 248.4 L129.8 252.8 L130.2 257.3 L130.7 261.9 L131.2 266.4 L131.6 270.9 L132.1 275.3 L132.6 279.6 L133.0 283.7 L133.5 287.7 L134.0 291.3 L134.4 294.7 L134.9 297.8 L135.4 300.5 L135.9 302.8 L136.3 304.8 L136.8 306.3 L137.3 307.4 L137.7 308.1 L138.2 308.3 L138.5 308.2 L138.8 307.9 L139.1 307.3 L139.4 306.6 L139.7 305.6 L140.0 304.4 L140.3 303.1 L140.6 301.5 L140.9 299.7 L141.2 297.7 L141.5 295.5 L141.8 293.1 L142.1 290.5 L142.5 287.7 L142.8 284.8 L143.1 281.6 L143.4 278.3 L143.7 274.8 L144.0 271.2 L144.3 267.4 L144.6 263.4 L144.9 259.3 L145.2 255.1 L145.5 250.7 L145.8 246.2 L146.1 241.5 L146.4 236.8 L146.7 231.9 L147.0 227.0 L147.3 221.9 L147.6 216.8 L147.9 211.6 L148.2 206.3 L148.5 201.0 L148.8 195.6 L149.1 190.1 L149.4 184.7 L149.7 179.1 L150.0 173.6 L150.3 168.1 L150.7 162.5 L151.0 157.0 L151.3 151.5 L151.6 145.9 L151.9 140.5 L152.2 135.0 L152.5 129.6 L152.8 124.3 L153.1 119.0 L153.4 113.8 L153.7 108.7 L154.0 103.6 L154.3 98.7 L154.6 93.8 L154.9 89.1 L155.2 84.4 L155.5 79.9 L155.8 75.5 L156.1 71.3 L156.4 67.2 L156.7 63.2 L157.0 59.4 L157.3 55.8 L157.6 52.3 L157.9 49.0 L158.2 45.8 L158.5 42.9 L158.9 40.1 L159.2 37.5 L159.5 35.1 L159.8 32.9 L160.1 30.9 L160.4 29.1 L160.7 27.5 L161.0 26.2 L161.3 25.0 L161.6 24.0 L161.9 23.3 L162.2 22.7 L162.5 22.4 L162.8 22.3 L163.2 22.5 L163.7 23.1 L164.1 24.1 L164.5 25.5 L165.0 27.3 L165.4 29.4 L165.8 31.9 L166.2 34.7 L166.7 37.9 L167.1 41.3 L167.5 45.0 L168.0 48.9 L168.4 53.0 L168.8 57.3 L169.3 61.7 L169.7 66.2 L170.1 70.8 L170.6 75.4 L171.0 80.1 L171.4 84.7 L171.8 89.2 L172.3 93.6 L172.7 97.9 L173.1 102.0 L173.6 105.9 L174.0 109.6 L174.4 113.0 L174.9 116.2 L175.3 119.0 L175.7 121.5 L176.1 123.6 L176.6 125.4 L177.0 126.8 L177.4 127.8 L177.9 128.4 L178.3 128.6 L178.8 128.4 L179.4 127.9 L179.9 126.9 L180.5 125.7 L181.0 124.1 L181.5 122.1 L182.1 119.8 L182.6 117.3 L183.2 114.5 L183.7 111.4 L184.2 108.2 L184.8 104.7 L185.3 101.1 L185.9 97.3 L186.4 93.5 L186.9 89.6 L187.5 85.8 L188.0 81.9 L188.5 78.1 L189.1 74.3 L189.6 70.7 L190.2 67.2 L190.7 64.0 L191.2 60.9 L191.8 58.1 L192.3 55.6 L192.9 53.3 L193.4 51.3 L193.9 49.7 L194.5 48.5 L195.0 47.5 L195.6 47.0 L196.1 46.8 L196.6 46.9 L197.0 47.3 L197.5 48.0 L197.9 48.9 L198.4 50.1 L198.8 51.5 L199.3 53.2 L199.8 55.1 L200.2 57.3 L200.7 59.7 L201.1 62.3 L201.6 65.1 L202.0 68.1 L202.5 71.3 L203.0 74.6 L203.4 78.2 L203.9 81.8 L204.3 85.6 L204.8 89.5 L205.2 93.6 L205.7 97.7 L206.2 101.9 L206.6 106.1 L207.1 110.4 L207.5 114.7 L208.0 119.0 L208.4 123.3 L208.9 127.6 L209.3 131.8 L209.8 136.0 L210.3 140.1 L210.7 144.2 L211.2 148.1 L211.6 151.9 L212.1 155.5 L212.5 159.1 L213.0 162.4 L213.5 165.6 L213.9 168.6 L214.4 171.4 L214.8 174.0 L215.3 176.4 L215.7 178.6 L216.2 180.5 L216.7 182.2 L217.1 183.6 L217.6 184.8 L218.0 185.7 L218.5 186.4 L218.9 186.8 L219.4 186.9 L220.0 186.7 L220.6 186.1 L221.2 185.1 L221.8 183.7 L222.5 182.0 L223.1 179.9 L223.7 177.5 L224.3 174.9 L224.9 172.0 L225.5 168.9 L226.1 165.6 L226.7 162.2 L227.3 158.8 L228.0 155.3 L228.6 151.9 L229.2 148.5 L229.8 145.2 L230.4 142.1 L231.0 139.2 L231.6 136.6 L232.2 134.2 L232.8 132.1 L233.5 130.4 L234.1 129.0 L234.7 128.0 L235.3 127.4 L235.9 127.2 L236.5 127.4 L237.1 127.9 L237.7 128.8 L238.3 130.0 L238.9 131.5 L239.6 133.4 L240.2 135.5 L240.8 137.9 L241.4 140.6 L242.0 143.4 L242.6 146.4 L243.2 149.6 L243.8 152.9 L244.4 156.2 L245.1 159.6 L245.7 163.0 L246.3 166.3 L246.9 169.6 L247.5 172.8 L248.1 175.8 L248.7 178.6 L249.3 181.3 L249.9 183.7 L250.5 185.8 L251.1 187.7 L251.8 189.2 L252.4 190.4 L253.0 191.3 L253.6 191.8 L254.2 192.0 L254.8 191.9 L255.4 191.4 L256.1 190.7 L256.7 189.6 L257.3 188.3 L257.9 186.8 L258.5 184.9 L259.1 182.9 L259.8 180.6 L260.4 178.1 L261.0 175.5 L261.6 172.7 L262.2 169.8 L262.9 166.8 L263.5 163.7 L264.1 160.6 L264.7 157.4 L265.3 154.3 L265.9 151.2 L266.6 148.2 L267.2 145.3 L267.8 142.5 L268.4 139.9 L269.0 137.4 L269.7 135.1 L270.3 133.1 L270.9 131.2 L271.5 129.7 L272.1 128.4 L272.7 127.3 L273.4 126.6 L274.0 126.1 L274.6 126.0 L275.3 126.1 L276.0 126.5 L276.8 127.2 L277.5 128.1 L278.2 129.3 L278.9 130.7 L279.6 132.3 L280.3 134.1 L281.1 136.1 L281.8 138.2 L282.5 140.4 L283.2 142.7 L283.9 145.0 L284.7 147.4 L285.4 149.7 L286.1 152.0 L286.8 154.2 L287.5 156.3 L288.3 158.3 L289.0 160.1 L289.7 161.7 L290.4 163.1 L291.1 164.3 L291.8 165.2 L292.6 165.9 L293.3 166.3 L294.0 166.4 L294.7 166.2 L295.4 165.8 L296.2 165.0 L296.9 163.9 L297.6 162.5 L298.4 160.9 L299.1 159.0 L299.8 157.0 L300.5 154.7 L301.2 152.4 L302.0 150.0 L302.7 147.5 L303.4 145.0 L304.1 142.6 L304.9 140.3 L305.6 138.1 L306.3 136.0 L307.0 134.1 L307.8 132.5 L308.5 131.1 L309.2 130.0 L309.9 129.2 L310.7 128.8 L311.4 128.6 L312.1 128.7 L312.9 129.1 L313.6 129.7 L314.4 130.6 L315.1 131.7 L315.9 133.0 L316.6 134.5 L317.4 136.2 L318.1 138.0 L318.8 140.0 L319.6 142.1 L320.3 144.2 L321.1 146.4 L321.8 148.6 L322.6 150.8 L323.3 152.9 L324.1 155.0 L324.8 156.9 L325.5 158.8 L326.3 160.5 L327.0 162.0 L327.8 163.3 L328.5 164.4 L329.3 165.3 L330.0 165.9 L330.8 166.3 L331.5 166.4 L332.3 166.3 L333.1 165.9 L333.9 165.2 L334.8 164.3 L335.6 163.3 L336.4 162.0 L337.2 160.5 L338.0 158.9 L338.8 157.2 L339.6 155.5 L340.5 153.7 L341.3 152.0 L342.1 150.3 L342.9 148.7 L343.7 147.2 L344.5 145.9 L345.3 144.9 L346.2 144.0 L347.0 143.3 L347.8 142.9 L348.6 142.8 L349.4 142.9 L350.3 143.2 L351.1 143.8 L352.0 144.5 L352.8 145.4 L353.7 146.5 L354.5 147.7 L355.3 149.0 L356.2 150.5 L357.0 152.0 L357.9 153.6 L358.7 155.1 L359.6 156.7 L360.4 158.2 L361.3 159.7 L362.1 161.0 L362.9 162.2 L363.8 163.3 L364.6 164.2 L365.5 164.9 L366.3 165.5 L367.2 165.8 L368.0 165.9 L368.9 165.8 L369.8 165.5 L370.7 165.1 L371.6 164.5 L372.5 163.8 L373.3 162.9 L374.2 161.9 L375.1 160.8 L376.0 159.6 L376.9 158.3 L377.8 157.0 L378.7 155.8 L379.6 154.5 L380.5 153.2 L381.4 152.0 L382.3 150.9 L383.2 149.9 L384.0 149.0 L384.9 148.3 L385.8 147.7 L386.7 147.3 L387.6 147.0 L388.5 146.9 L389.4 147.0 L390.2 147.3 L391.1 147.7 L392.0 148.4 L392.8 149.1 L393.7 150.1 L394.6 151.1 L395.4 152.2 L396.3 153.4 L397.1 154.5 L398.0 155.7 L398.9 156.9 L399.7 158.0 L400.6 159.0 L401.5 160.0 L402.3 160.7 L403.2 161.4 L404.1 161.8 L404.9 162.1 L405.8 162.2 L406.7 162.1 L407.7 161.9 L408.6 161.5 L409.5 161.0 L410.4 160.3 L411.4 159.6 L412.3 158.7 L413.2 157.8 L414.2 156.8 L415.1 155.8 L416.0 154.7 L416.9 153.7 L417.9 152.7 L418.8 151.8 L419.7 150.9 L420.7 150.2 L421.6 149.5 L422.5 149.0 L423.4 148.6 L424.4 148.4 L425.3 148.3 L426.2 148.4 L427.1 148.6 L428.1 148.9 L429.0 149.3 L429.9 149.9 L430.8 150.5 L431.8 151.3 L432.7 152.1 L433.6 152.9 L434.5 153.8 L435.5 154.7 L436.4 155.6 L437.3 156.4 L438.2 157.2 L439.2 158.0 L440.1 158.6 L441.0 159.2 L441.9 159.6 L442.9 159.9 L443.8 160.1 L444.7 160.2 L445.7 160.1 L446.7 160.0 L447.6 159.7 L448.6 159.3 L449.6 158.8 L450.6 158.3 L451.6 157.6 L452.5 157.0 L453.5 156.3 L454.5 155.5 L455.5 154.8 L456.4 154.2 L457.4 153.5 L458.4 153.0 L459.4 152.5 L460.4 152.1 L461.3 151.8 L462.3 151.7 L463.3 151.6 L464.3 151.7 L465.2 151.8 L466.2 152.0 L467.2 152.4 L468.1 152.8 L469.1 153.3 L470.1 153.8 L471.1 154.4 L472.0 155.1 L473.0 155.7 L474.0 156.3 L474.9 157.0 L475.9 157.6 L476.9 158.1 L477.9 158.6 L478.8 159.0 L479.8 159.4 L480.8 159.6 L481.7 159.7 L482.7 159.8 L483.7 159.7 L484.6 159.6 L485.6 159.3 L486.5 159.0 L487.5 158.6 L488.5 158.1 L489.4 157.6 L490.4 157.0 L491.4 156.4 L492.3 155.8 L493.3 155.2 L494.2 154.7 L495.2 154.2 L496.2 153.8 L497.1 153.5 L498.1 153.2 L499.0 153.1 L500.0 153.0 L501.0 153.0 L501.9 153.1 L502.9 153.3 L503.9 153.5 L504.9 153.8 L505.9 154.1 L506.8 154.5 L507.8 154.9 L508.8 155.3 L509.8 155.8 L510.7 156.2 L511.7 156.6 L512.7 157.0 L513.6 157.4 L514.6 157.7 L515.6 158.0 L516.6 158.2 L517.5 158.4 L518.5 158.5 L519.5 158.5 L520.5 158.5 L521.5 158.4 L522.6 158.2 L523.6 157.9 L524.6 157.6 L525.6 157.3 L526.7 156.9 L527.7 156.5 L528.7 156.1 L529.7 155.6 L530.7 155.2 L531.8 154.8 L532.8 154.5 L533.8 154.2 L534.8 153.9 L535.9 153.7 L536.9 153.6 L537.9 153.6 L538.9 153.6 L539.9 153.7 L540.9 153.9 L541.9 154.1 L542.9 154.4 L543.9 154.7 L544.9 155.0 L545.9 155.4 L547.0 155.8 L548.0 156.2 L549.0 156.6 L550.0 156.9 L551.0 157.2 L552.0 157.5 L553.0 157.7 L554.0 157.9 L555.0 158.0 L556.0 158.0 L557.0 158.0 L558.1 157.9 L559.1 157.8 L560.1 157.6 L561.2 157.4 L562.2 157.2 L563.2 156.9 L564.3 156.6 L565.3 156.3 L566.4 156.0 L567.4 155.7 L568.4 155.4 L569.5 155.1 L570.5 154.8 L571.5 154.6 L572.6 154.4 L573.6 154.2 L574.6 154.1 L575.7 154.0 L576.7 154.0 L577.7 154.0 L578.7 154.1 L579.8 154.2 L580.8 154.4 L581.8 154.6 L582.8 154.9 L583.8 155.2 L584.8 155.5 L585.9 155.8 L586.9 156.1 L587.9 156.4 L588.9 156.7 L589.9 157.0 L590.9 157.2 L592.0 157.4 L593.0 157.5 L594.0 157.6 L595.0 157.6 L596.0 157.6 L597.0 157.5 L598.0 157.4 L599.0 157.3 L600.0 157.1 L601.0 156.9 L602.0 156.7 L603.0 156.5 L604.0 156.2 L605.0 156.0 L606.0 155.7 L607.0 155.5 L608.0 155.3 L609.0 155.1 L610.0 154.9 L611.0 154.8 L612.0 154.7 L613.0 154.6 L614.0 154.6 L615.0 154.6 L616.0 154.7 L617.0 154.8 L618.0 154.9 L619.0 155.0 L620.0 155.2 L621.0 155.4 L622.0 155.6 L623.0 155.8 L624.0 156.0 L625.0 156.2 L626.0 156.4 L627.0 156.6 L628.0 156.8 L629.0 156.9 L630.0 157.0 L631.0 157.1 L632.0 157.2 L633.0 157.2 L634.0 157.2 L635.0 157.1 L636.0 157.1 L637.0 157.0 L638.0 156.8 L639.0 156.7 L640.0 156.5 L641.0 156.4 L642.0 156.2 L643.0 156.0 L644.0 155.8 L645.0 155.7 L646.0 155.5 L647.0 155.4 L648.0 155.2 L649.0 155.1 L650.0 155.1 L651.0 155.0 L652.0 155.0 L653.0 155.0 L654.0 155.0 L655.0 155.1 L656.0 155.1 L657.0 155.2 L658.0 155.2 L659.0 155.3 L660.0 155.4 L661.0 155.5 L662.0 155.6 L663.0 155.7 L664.0 155.7 L665.0 155.8 L666.0 155.9 L667.0 156.0 L668.0 156.1 L669.0 156.1 L670.0 156.2 L671.0 156.2 L672.0 156.3 L673.0 156.3 L674.0 156.3" stroke="#7E2F8E" stroke-width="2.5" stroke-linecap="round" stroke-dasharray="1.5 4.75"/>
</g>
<g stroke="#262626" fill="none">
<rect x="92.2" y="9.7" width="581.70" height="439.25" stroke-width="1.3"/>
<g stroke-width="0.75"><line x1="92.20" y1="448.95" x2="92.20" y2="442.95"/><line x1="92.20" y1="9.7" x2="92.20" y2="15.7"/><line x1="189.15" y1="448.95" x2="189.15" y2="442.95"/><line x1="189.15" y1="9.7" x2="189.15" y2="15.7"/><line x1="286.10" y1="448.95" x2="286.10" y2="442.95"/><line x1="286.10" y1="9.7" x2="286.10" y2="15.7"/><line x1="383.05" y1="448.95" x2="383.05" y2="442.95"/><line x1="383.05" y1="9.7" x2="383.05" y2="15.7"/><line x1="480.00" y1="448.95" x2="480.00" y2="442.95"/><line x1="480.00" y1="9.7" x2="480.00" y2="15.7"/><line x1="576.95" y1="448.95" x2="576.95" y2="442.95"/><line x1="576.95" y1="9.7" x2="576.95" y2="15.7"/><line x1="673.90" y1="448.95" x2="673.90" y2="442.95"/><line x1="673.90" y1="9.7" x2="673.90" y2="15.7"/><line x1="92.2" y1="9.70" x2="98.2" y2="9.70"/><line x1="673.9" y1="9.70" x2="667.9" y2="9.70"/><line x1="92.2" y1="58.51" x2="98.2" y2="58.51"/><line x1="673.9" y1="58.51" x2="667.9" y2="58.51"/><line x1="92.2" y1="107.31" x2="98.2" y2="107.31"/><line x1="673.9" y1="107.31" x2="667.9" y2="107.31"/><line x1="92.2" y1="156.12" x2="98.2" y2="156.12"/><line x1="673.9" y1="156.12" x2="667.9" y2="156.12"/><line x1="92.2" y1="204.92" x2="98.2" y2="204.92"/><line x1="673.9" y1="204.92" x2="667.9" y2="204.92"/><line x1="92.2" y1="253.73" x2="98.2" y2="253.73"/><line x1="673.9" y1="253.73" x2="667.9" y2="253.73"/><line x1="92.2" y1="302.53" x2="98.2" y2="302.53"/><line x1="673.9" y1="302.53" x2="667.9" y2="302.53"/><line x1="92.2" y1="351.34" x2="98.2" y2="351.34"/><line x1="673.9" y1="351.34" x2="667.9" y2="351.34"/><line x1="92.2" y1="400.14" x2="98.2" y2="400.14"/><line x1="673.9" y1="400.14" x2="667.9" y2="400.14"/><line x1="92.2" y1="448.95" x2="98.2" y2="448.95"/><line x1="673.9" y1="448.95" x2="667.9" y2="448.95"/></g>
</g>
<g font-size="20.9">
<text x="84.8" y="16.30" text-anchor="end">0.15</text><text x="77.3" y="65.11" text-anchor="end">0.1</text><text x="84.8" y="113.91" text-anchor="end">0.05</text><text x="72.2" y="162.72" text-anchor="end">0</text><text x="84.8" y="211.52" text-anchor="end">-0.05</text><text x="81.4" y="260.33" text-anchor="end">-0.1</text><text x="84.8" y="309.13" text-anchor="end">-0.15</text><text x="82.2" y="357.94" text-anchor="end">-0.2</text><text x="84.8" y="406.74" text-anchor="end">-0.25</text><text x="81.7" y="455.55" text-anchor="end">-0.3</text>
<text x="92.20" y="477.8" text-anchor="middle">0</text><text x="189.15" y="477.8" text-anchor="middle">5</text><text x="286.10" y="477.8" text-anchor="middle">10</text><text x="383.05" y="477.8" text-anchor="middle">15</text><text x="480.00" y="477.8" text-anchor="middle">20</text><text x="576.95" y="477.8" text-anchor="middle">25</text><text x="673.90" y="477.8" text-anchor="middle">30</text>
</g>
<text x="383.6" y="507.6" font-size="23" letter-spacing="0.35" text-anchor="middle">Time (s)</text>
<text transform="translate(18.8 231.6) rotate(-90)" font-size="23" letter-spacing="0.42" text-anchor="middle">Change in f<tspan font-size="16" dy="4.5">2</tspan></text>
<g fill="none">
<line x1="507.5" y1="246" x2="547.5" y2="246" stroke="#0072BD" stroke-width="3.4" stroke-linecap="round"/>
<line x1="506.8" y1="270.4" x2="548.2" y2="270.4" stroke="#D95319" stroke-width="2.1"/>
<line x1="507.2" y1="294.6" x2="548.2" y2="294.6" stroke="#000" stroke-width="2.4" stroke-dasharray="16 8.6"/>
<line x1="508.1" y1="319" x2="548.2" y2="319" stroke="#7E2F8E" stroke-width="2.4" stroke-linecap="round" stroke-dasharray="1.9 4.35"/>
</g>
<g font-size="19">
<text x="555" y="251.4">SCHO</text>
<text x="555" y="275.8">SSA</text>
<text x="555" y="300.0">WOA</text>
<text x="555" y="324.4">FA</text>
</g>
</svg>
</body></html>
